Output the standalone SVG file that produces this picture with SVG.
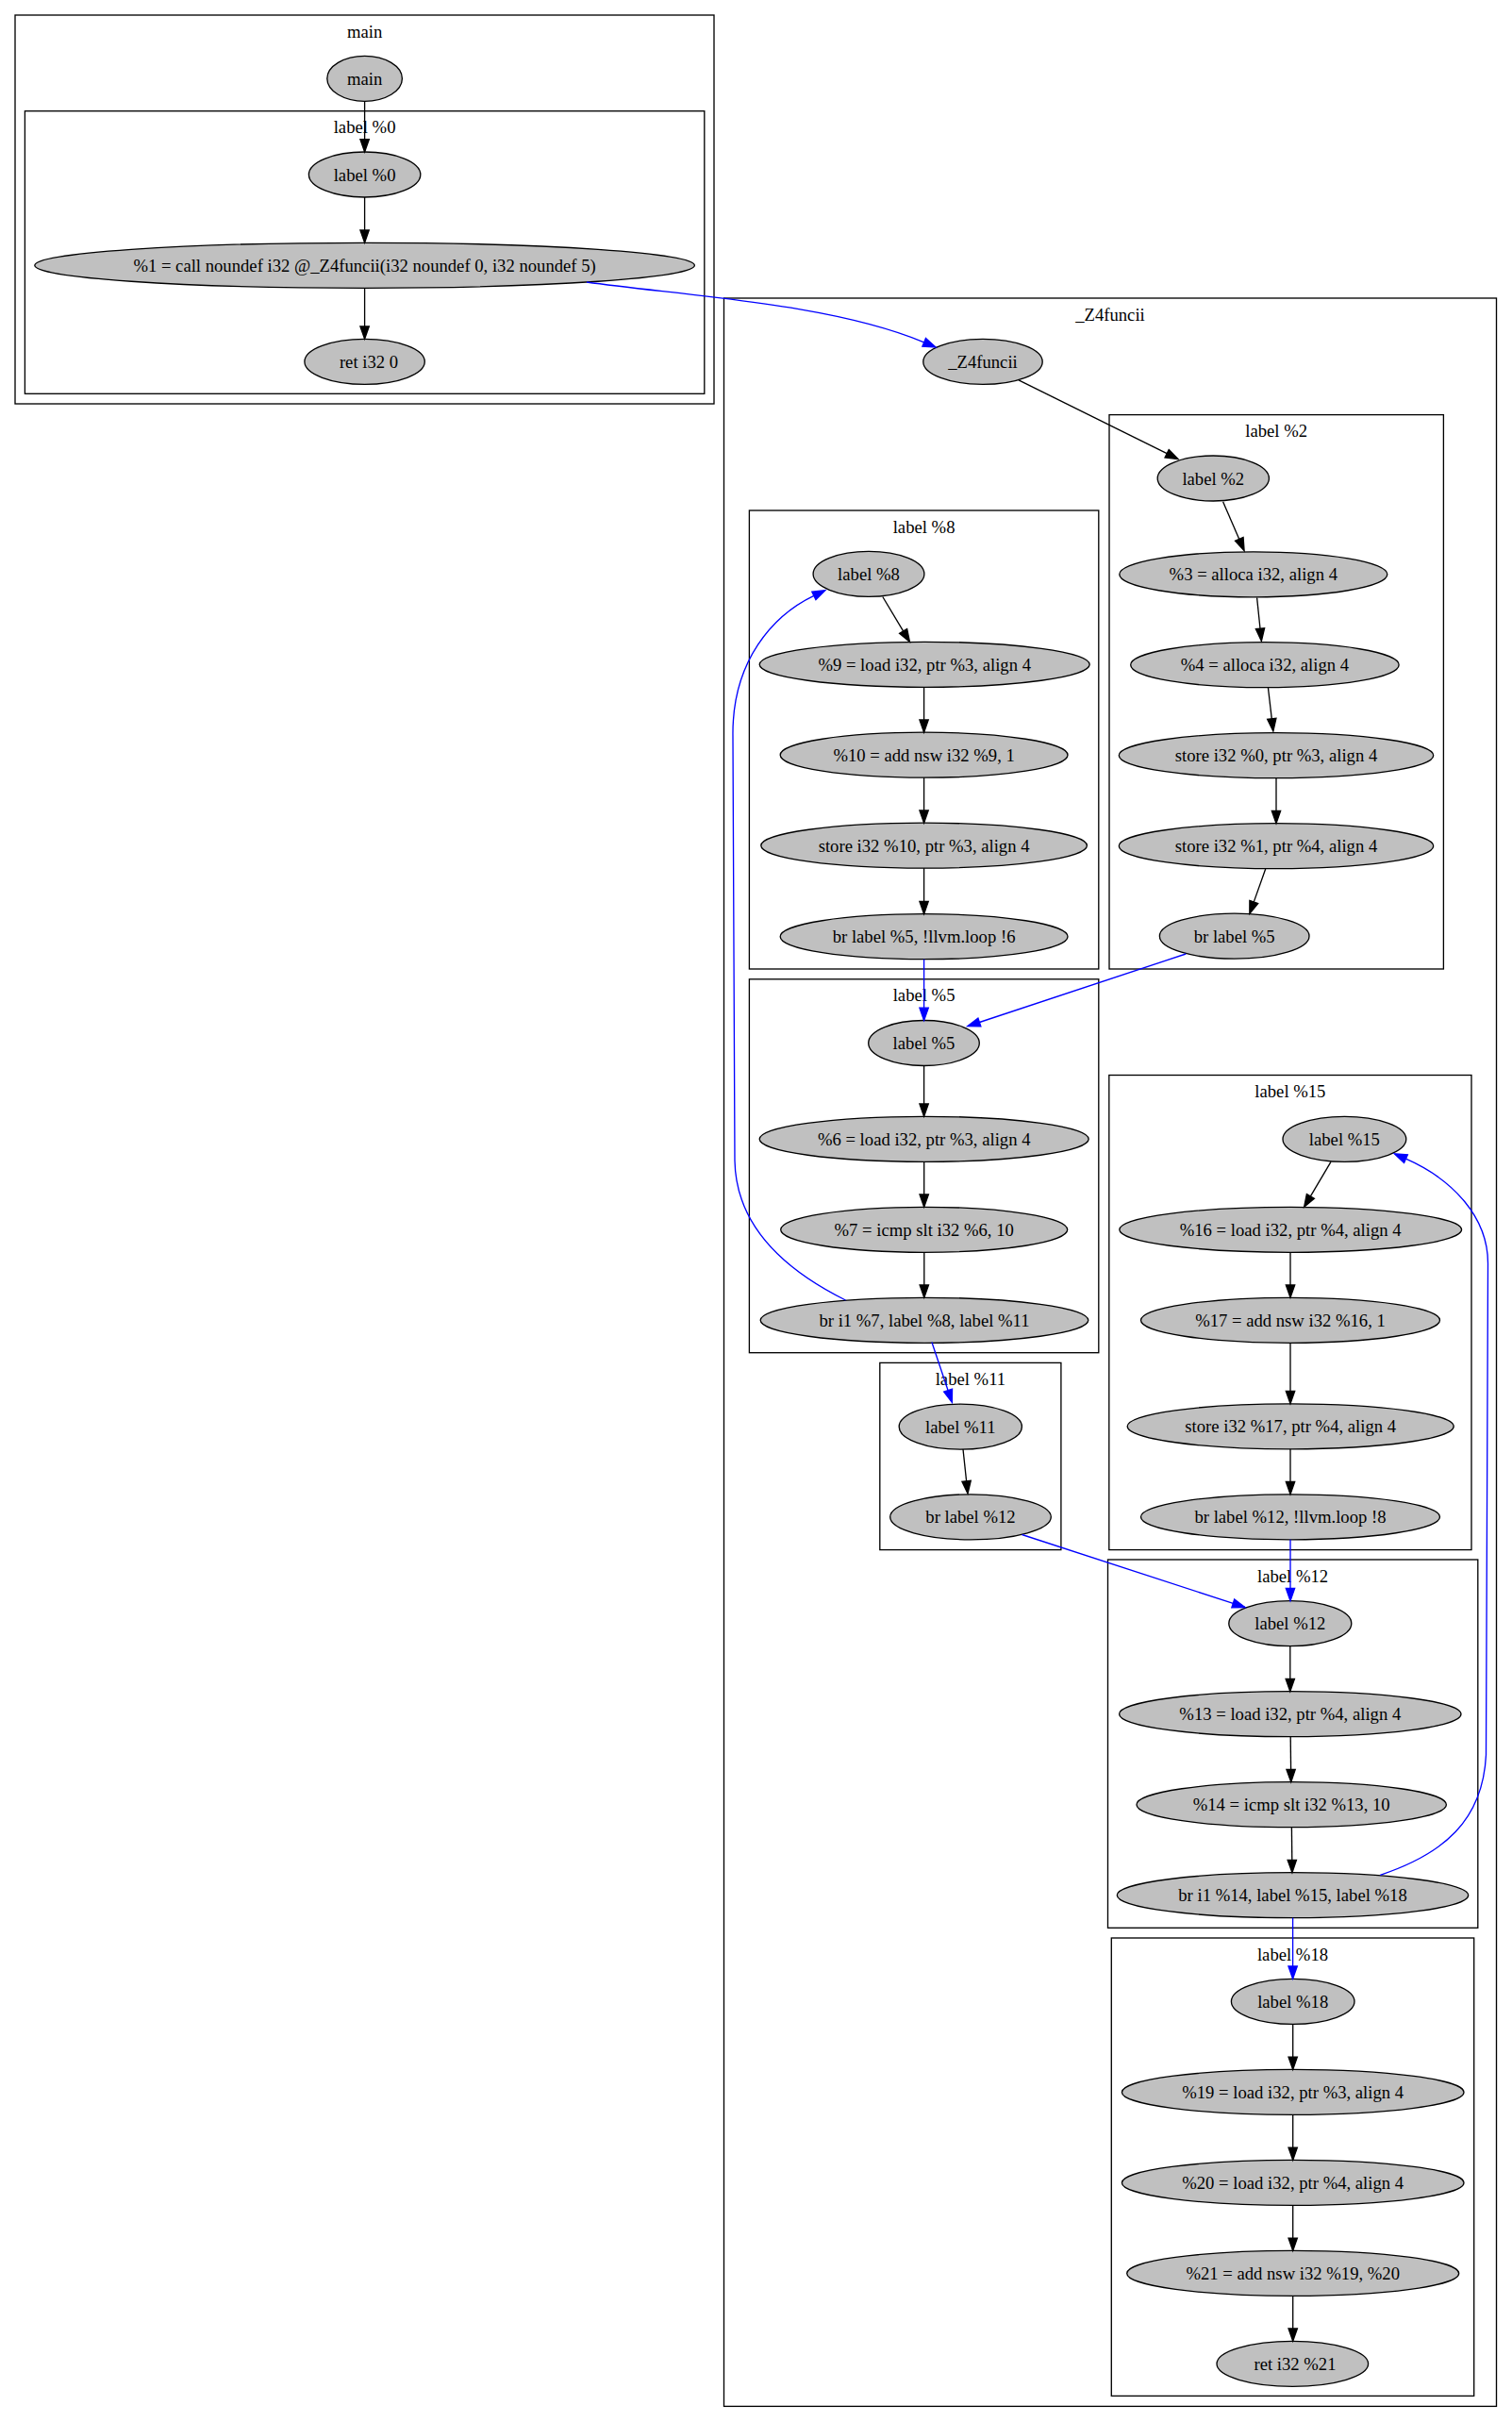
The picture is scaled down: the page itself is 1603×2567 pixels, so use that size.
<svg xmlns="http://www.w3.org/2000/svg" width="1603" height="2567" viewBox="0 0 1603 2567">
<style>
.cl{fill:none;stroke:#000;stroke-width:1.33}
.nd{fill:#c0c0c0;stroke:#000;stroke-width:1.33}
text{font-family:"Liberation Serif","Times New Roman",serif;font-size:18.67px;fill:#000;text-anchor:middle}
.e{fill:none;stroke:#000;stroke-width:1.33;marker-end:url(#ab)}
.b{fill:none;stroke:#0000ff;stroke-width:1.33;marker-end:url(#au)}
</style>
<defs>
<marker id="ab" markerUnits="userSpaceOnUse" markerWidth="16" markerHeight="12" refX="0" refY="4.67" orient="auto" overflow="visible"><path d="M0,0 L13.33,4.67 L0,9.34 Z" fill="#000" stroke="#000" stroke-width="1.33"/></marker>
<marker id="au" markerUnits="userSpaceOnUse" markerWidth="16" markerHeight="12" refX="0" refY="4.67" orient="auto" overflow="visible"><path d="M0,0 L13.33,4.67 L0,9.34 Z" fill="#0000ff" stroke="#0000ff" stroke-width="1.33"/></marker>
</defs>
<rect width="1603" height="2567" fill="#fff"/>
<g id="clusters">
<g id="c_main"><rect class="cl" x="16" y="16" width="741" height="412"/><text x="386.6" y="39.5">main</text></g>
<g id="c_l0"><rect class="cl" x="26.4" y="117.7" width="720.4" height="299.6"/><text x="386.6" y="141">label %0</text></g>
<g id="c_z4"><rect class="cl" x="767.5" y="316" width="819" height="2234.4"/><text x="1177" y="339.5">_Z4funcii</text></g>
<g id="c_l2"><rect class="cl" x="1176" y="439.6" width="354.4" height="587.4"/><text x="1353.2" y="463">label %2</text></g>
<g id="c_l8"><rect class="cl" x="794.4" y="541" width="370.4" height="486"/><text x="979.6" y="564.5">label %8</text></g>
<g id="c_l5"><rect class="cl" x="794.4" y="1037.8" width="370.4" height="395.9"/><text x="979.6" y="1061.3">label %5</text></g>
<g id="c_l11"><rect class="cl" x="932.8" y="1444.4" width="192.1" height="198.2"/><text x="1028.9" y="1468">label %11</text></g>
<g id="c_l15"><rect class="cl" x="1175.8" y="1139.5" width="384.2" height="503.1"/><text x="1367.9" y="1163">label %15</text></g>
<g id="c_l12"><rect class="cl" x="1174.5" y="1653" width="392.3" height="390.3"/><text x="1370.6" y="1676.5">label %12</text></g>
<g id="c_l18"><rect class="cl" x="1178.3" y="2054" width="384.4" height="485.4"/><text x="1370.5" y="2077.5">label %18</text></g>
</g>
<g id="nodes">
<g id="n_main"><ellipse class="nd" cx="386.6" cy="83.3" rx="39.8" ry="24"/><text x="386.6" y="89.8">main</text></g>
<g id="n_l0"><ellipse class="nd" cx="386.6" cy="185" rx="59.2" ry="24"/><text x="386.6" y="191.5">label %0</text></g>
<g id="n_call"><ellipse class="nd" cx="386.6" cy="281.3" rx="349.8" ry="24"/><text x="386.6" y="287.8">%1 = call noundef i32 @_Z4funcii(i32 noundef 0, i32 noundef 5)</text></g>
<g id="n_ret0"><ellipse class="nd" cx="386.6" cy="383.3" rx="63.7" ry="24"/><text x="391" y="389.8">ret i32 0</text></g>
<g id="n_z4"><ellipse class="nd" cx="1042" cy="383.4" rx="63.2" ry="24"/><text x="1042" y="389.9">_Z4funcii</text></g>
<g id="n_l2"><ellipse class="nd" cx="1286.3" cy="507" rx="59.1" ry="24"/><text x="1286.3" y="513.5">label %2</text></g>
<g id="n_3"><ellipse class="nd" cx="1328.8" cy="608.8" rx="142" ry="24"/><text x="1328.8" y="615.3">%3 = alloca i32, align 4</text></g>
<g id="n_4"><ellipse class="nd" cx="1340.9" cy="704.7" rx="142.2" ry="24"/><text x="1340.9" y="711.2">%4 = alloca i32, align 4</text></g>
<g id="n_st0"><ellipse class="nd" cx="1353" cy="800.7" rx="166.7" ry="24"/><text x="1353" y="807.2">store i32 %0, ptr %3, align 4</text></g>
<g id="n_st1"><ellipse class="nd" cx="1353" cy="896.7" rx="166.7" ry="24"/><text x="1353" y="903.2">store i32 %1, ptr %4, align 4</text></g>
<g id="n_br5a"><ellipse class="nd" cx="1308.7" cy="992.2" rx="79.3" ry="24"/><text x="1308.7" y="998.7">br label %5</text></g>
<g id="n_l8"><ellipse class="nd" cx="921" cy="608.3" rx="58.9" ry="24"/><text x="921" y="614.8">label %8</text></g>
<g id="n_9"><ellipse class="nd" cx="980.2" cy="704.3" rx="175" ry="24"/><text x="980.2" y="710.8">%9 = load i32, ptr %3, align 4</text></g>
<g id="n_10"><ellipse class="nd" cx="979.6" cy="800.2" rx="152.4" ry="24"/><text x="979.6" y="806.7">%10 = add nsw i32 %9, 1</text></g>
<g id="n_st10"><ellipse class="nd" cx="979.6" cy="896.2" rx="172.8" ry="24"/><text x="979.6" y="902.7">store i32 %10, ptr %3, align 4</text></g>
<g id="n_br6"><ellipse class="nd" cx="979.6" cy="992.7" rx="152.4" ry="24"/><text x="979.6" y="999.2">br label %5, !llvm.loop !6</text></g>
<g id="n_l5"><ellipse class="nd" cx="979.5" cy="1105.5" rx="58.8" ry="24"/><text x="979.5" y="1112">label %5</text></g>
<g id="n_6"><ellipse class="nd" cx="979.7" cy="1207.3" rx="174.5" ry="24"/><text x="979.7" y="1213.8">%6 = load i32, ptr %3, align 4</text></g>
<g id="n_7"><ellipse class="nd" cx="979.7" cy="1303.3" rx="152" ry="24"/><text x="979.7" y="1309.8">%7 = icmp slt i32 %6, 10</text></g>
<g id="n_bri7"><ellipse class="nd" cx="980" cy="1399.3" rx="173.8" ry="24"/><text x="980" y="1405.8">br i1 %7, label %8, label %11</text></g>
<g id="n_l11"><ellipse class="nd" cx="1018.3" cy="1512.2" rx="65.1" ry="24"/><text x="1018.3" y="1518.7">label %11</text></g>
<g id="n_br12a"><ellipse class="nd" cx="1029" cy="1607.8" rx="85.3" ry="24"/><text x="1029" y="1614.3">br label %12</text></g>
<g id="n_l15"><ellipse class="nd" cx="1425.4" cy="1207.3" rx="65.4" ry="24"/><text x="1425.4" y="1213.8">label %15</text></g>
<g id="n_16"><ellipse class="nd" cx="1368.2" cy="1303.3" rx="181.4" ry="24"/><text x="1368.2" y="1309.8">%16 = load i32, ptr %4, align 4</text></g>
<g id="n_17"><ellipse class="nd" cx="1368" cy="1399.3" rx="158.5" ry="24"/><text x="1368" y="1405.8">%17 = add nsw i32 %16, 1</text></g>
<g id="n_st17"><ellipse class="nd" cx="1368.2" cy="1511.8" rx="173" ry="24"/><text x="1368.2" y="1518.3">store i32 %17, ptr %4, align 4</text></g>
<g id="n_br8"><ellipse class="nd" cx="1368" cy="1607.8" rx="158.5" ry="24"/><text x="1368" y="1614.3">br label %12, !llvm.loop !8</text></g>
<g id="n_l12"><ellipse class="nd" cx="1367.8" cy="1720.7" rx="65" ry="24"/><text x="1367.8" y="1727.2">label %12</text></g>
<g id="n_13"><ellipse class="nd" cx="1367.8" cy="1816.7" rx="181.2" ry="24"/><text x="1367.8" y="1823.2">%13 = load i32, ptr %4, align 4</text></g>
<g id="n_14"><ellipse class="nd" cx="1369.2" cy="1912.7" rx="164.2" ry="24"/><text x="1369.2" y="1919.2">%14 = icmp slt i32 %13, 10</text></g>
<g id="n_bri14"><ellipse class="nd" cx="1370.5" cy="2008.7" rx="186.2" ry="24"/><text x="1370.5" y="2015.2">br i1 %14, label %15, label %18</text></g>
<g id="n_l18"><ellipse class="nd" cx="1370.7" cy="2121.3" rx="65.3" ry="24"/><text x="1370.7" y="2127.8">label %18</text></g>
<g id="n_19"><ellipse class="nd" cx="1370.7" cy="2217.4" rx="181.3" ry="24"/><text x="1370.7" y="2223.9">%19 = load i32, ptr %3, align 4</text></g>
<g id="n_20"><ellipse class="nd" cx="1370.7" cy="2313.4" rx="181.3" ry="24"/><text x="1370.7" y="2319.9">%20 = load i32, ptr %4, align 4</text></g>
<g id="n_21"><ellipse class="nd" cx="1370.7" cy="2409.4" rx="176" ry="24"/><text x="1370.7" y="2415.9">%21 = add nsw i32 %19, %20</text></g>
<g id="n_ret21"><ellipse class="nd" cx="1370.3" cy="2505.3" rx="80.3" ry="24"/><text x="1373" y="2511.8">ret i32 %21</text></g>
</g>
<g id="edges">
<path class="e" d="M386.6,107.3 L386.6,147.7"/>
<path class="e" d="M386.6,209 L386.6,243.9"/>
<path class="e" d="M386.6,305.3 L386.6,346"/>
<path class="b" d="M622,299 C720,313 879.7,320.8 979.7,362.8"/>
<path class="e" d="M1080,402.8 L1237.1,480.7"/>
<path class="e" d="M1296.6,531.7 L1313.8,571.4"/>
<path class="e" d="M1332.6,633.5 L1336,666.2"/>
<path class="e" d="M1344.4,728.5 L1348.3,761.8"/>
<path class="e" d="M1353,824.7 L1353,859.4"/>
<path class="e" d="M1341.7,921 L1329.3,955.9"/>
<path class="b" d="M1257.3,1011 L1038.4,1083.5"/>
<path class="e" d="M935.8,632.5 L957.6,668.9"/>
<path class="e" d="M979.6,728.3 L979.6,762.9"/>
<path class="e" d="M979.6,824.2 L979.6,858.9"/>
<path class="e" d="M979.6,920.2 L979.6,955.4"/>
<path class="b" d="M979.6,1016.7 L979.6,1068.2"/>
<path class="e" d="M979.6,1129.5 L979.6,1170"/>
<path class="e" d="M979.7,1231.3 L979.7,1266"/>
<path class="e" d="M979.8,1327.3 L979.8,1362"/>
<path class="b" d="M896.5,1378 C820,1340 780,1290 779,1230 L777,780 C776,700 820,652 862.9,631.4"/>
<path class="b" d="M987.9,1422.5 L1005.1,1473.7"/>
<path class="e" d="M1021,1536 L1024.6,1569.8"/>
<path class="b" d="M1083.5,1626.5 L1307.3,1699.4"/>
<path class="e" d="M1411,1231.4 L1389.4,1267.9"/>
<path class="e" d="M1368,1327.3 L1368,1362"/>
<path class="e" d="M1368,1423.3 L1368,1474.5"/>
<path class="e" d="M1368,1535.8 L1368,1570.5"/>
<path class="b" d="M1368,1631.8 L1368,1683.4"/>
<path class="e" d="M1367.8,1744.7 L1367.8,1779.4"/>
<path class="e" d="M1368.2,1840.7 L1368.6,1875.4"/>
<path class="e" d="M1369.4,1936.7 L1369.8,1971.4"/>
<path class="b" d="M1463.3,1987.3 C1530,1965 1572,1930 1575.5,1860 L1577.5,1340 C1578,1290 1540,1250 1490.5,1228.2"/>
<path class="b" d="M1370.6,2032.7 L1370.6,2084"/>
<path class="e" d="M1370.7,2145.3 L1370.7,2180.1"/>
<path class="e" d="M1370.7,2241.4 L1370.7,2276.1"/>
<path class="e" d="M1370.7,2337.4 L1370.7,2372.1"/>
<path class="e" d="M1370.7,2433.4 L1370.7,2468"/>
</g>
</svg>
